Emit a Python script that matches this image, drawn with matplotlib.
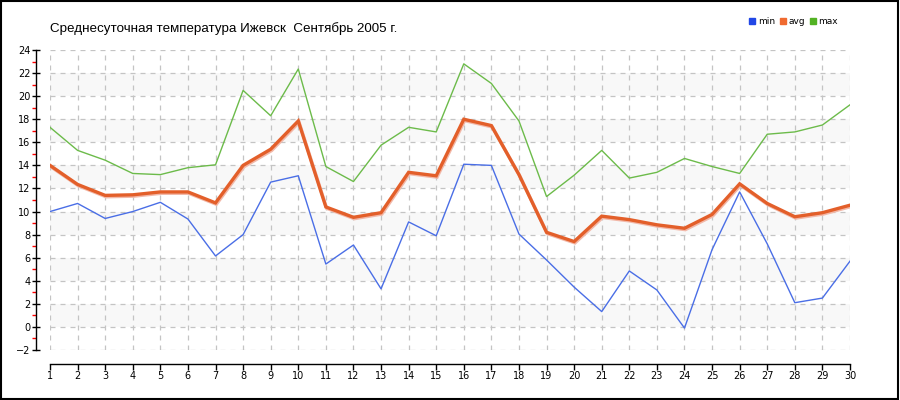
import numpy as np
import matplotlib
matplotlib.use("Agg")
import matplotlib.pyplot as plt
import matplotlib.patheffects as pe
from matplotlib.lines import Line2D
from matplotlib.patches import Rectangle

# data
days = list(range(1, 31))
t_min = [10.0, 10.7, 9.4, 10.0, 10.8, 9.35, 6.15, 8.0, 12.55, 13.1,
         5.45, 7.1, 3.3, 9.1, 7.9, 14.1, 14.0, 8.05, 5.8, 3.45,
         1.33, 4.85, 3.2, -0.1, 6.7, 11.7, 7.2, 2.1, 2.5, 5.7]
t_avg = [14.0, 12.35, 11.4, 11.45, 11.7, 11.7, 10.75, 14.0, 15.4, 17.85,
         10.4, 9.5, 9.9, 13.4, 13.1, 18.0, 17.45, 13.2, 8.2, 7.4,
         9.6, 9.3, 8.85, 8.55, 9.75, 12.4, 10.7, 9.55, 9.9, 10.55]
t_max = [17.3, 15.3, 14.45, 13.3, 13.2, 13.8, 14.05, 20.5, 18.3, 22.35,
         13.9, 12.6, 15.75, 17.3, 16.9, 22.8, 21.1, 17.85, 11.3, 13.15,
         15.3, 12.9, 13.4, 14.6, 13.9, 13.3, 16.7, 16.9, 17.5, 19.25]
title = "Среднесуточная температура Ижевск  Сентябрь 2005 г."
series_names = ["min", "avg", "max"]

c_min, c_avg, c_max = "#4a6ee6", "#e35f2a", "#6cbb4a"

fig = plt.figure(figsize=(9, 4), dpi=100)
ax = fig.add_axes([50/900, 50/400, 800/900, 300/400])

ax.set_xlim(1, 30)
ax.set_ylim(-2, 24)

# shaded horizontal bands
for lo in range(0, 24, 4):
    ax.axhspan(lo, lo + 2, color="#f8f8f8", zorder=0, lw=0)

ax.set_xticks(days)
ax.set_yticks(range(-2, 25, 2))
ax.set_yticks(range(-1, 24, 2), minor=True)
ax.grid(True, which="major", color="#c4c4c4", ls=(0, (4, 4)), lw=0.9, zorder=1)

ax.plot(days, t_min, color=c_min, lw=1, zorder=3)
ax.plot(days, t_max, color=c_max, lw=1, zorder=3)
ax.plot(days, t_avg, color=c_avg, lw=2.4, zorder=4, solid_joinstyle="miter",
        path_effects=[pe.SimpleLineShadow(offset=(0.6, -1), shadow_color="#f2b8a8", alpha=1),
                      pe.Normal()])

for s in ["top", "right"]:
    ax.spines[s].set_visible(False)
ax.spines["left"].set_position(("outward", 10))
ax.spines["bottom"].set_position(("outward", 10))
ax.spines["left"].set_linewidth(1)
ax.spines["bottom"].set_linewidth(1)

ax.tick_params(axis="y", which="major", direction="inout", length=6, width=1,
               labelsize=7, pad=1)
ax.tick_params(axis="y", which="minor", direction="out", length=3, width=1, color="red")
ax.tick_params(axis="x", which="major", direction="out", length=4, width=1,
               labelsize=7, pad=1)

fig.text(50/900, 1 - 29/400, title, fontsize=9.6, family="Liberation Sans",
         va="center", ha="left")

handles = [Line2D([], [], marker="s", ls="", markersize=4, color=c)
           for c in ["#2147e6", "#f06a30", "#52b223"]]
fig.legend(handles, series_names, loc="center left", bbox_to_anchor=(745/900, 1 - 22/400),
           ncol=3, frameon=False, fontsize=6.5, handlelength=0.6, handletextpad=0.3,
           columnspacing=0.6, borderpad=0)

fig.add_artist(Rectangle((0.001, 0.002), 0.997, 0.995, transform=fig.transFigure,
                         fill=False, ec="black", lw=1.5))

fig.savefig("out.png", dpi=100)
